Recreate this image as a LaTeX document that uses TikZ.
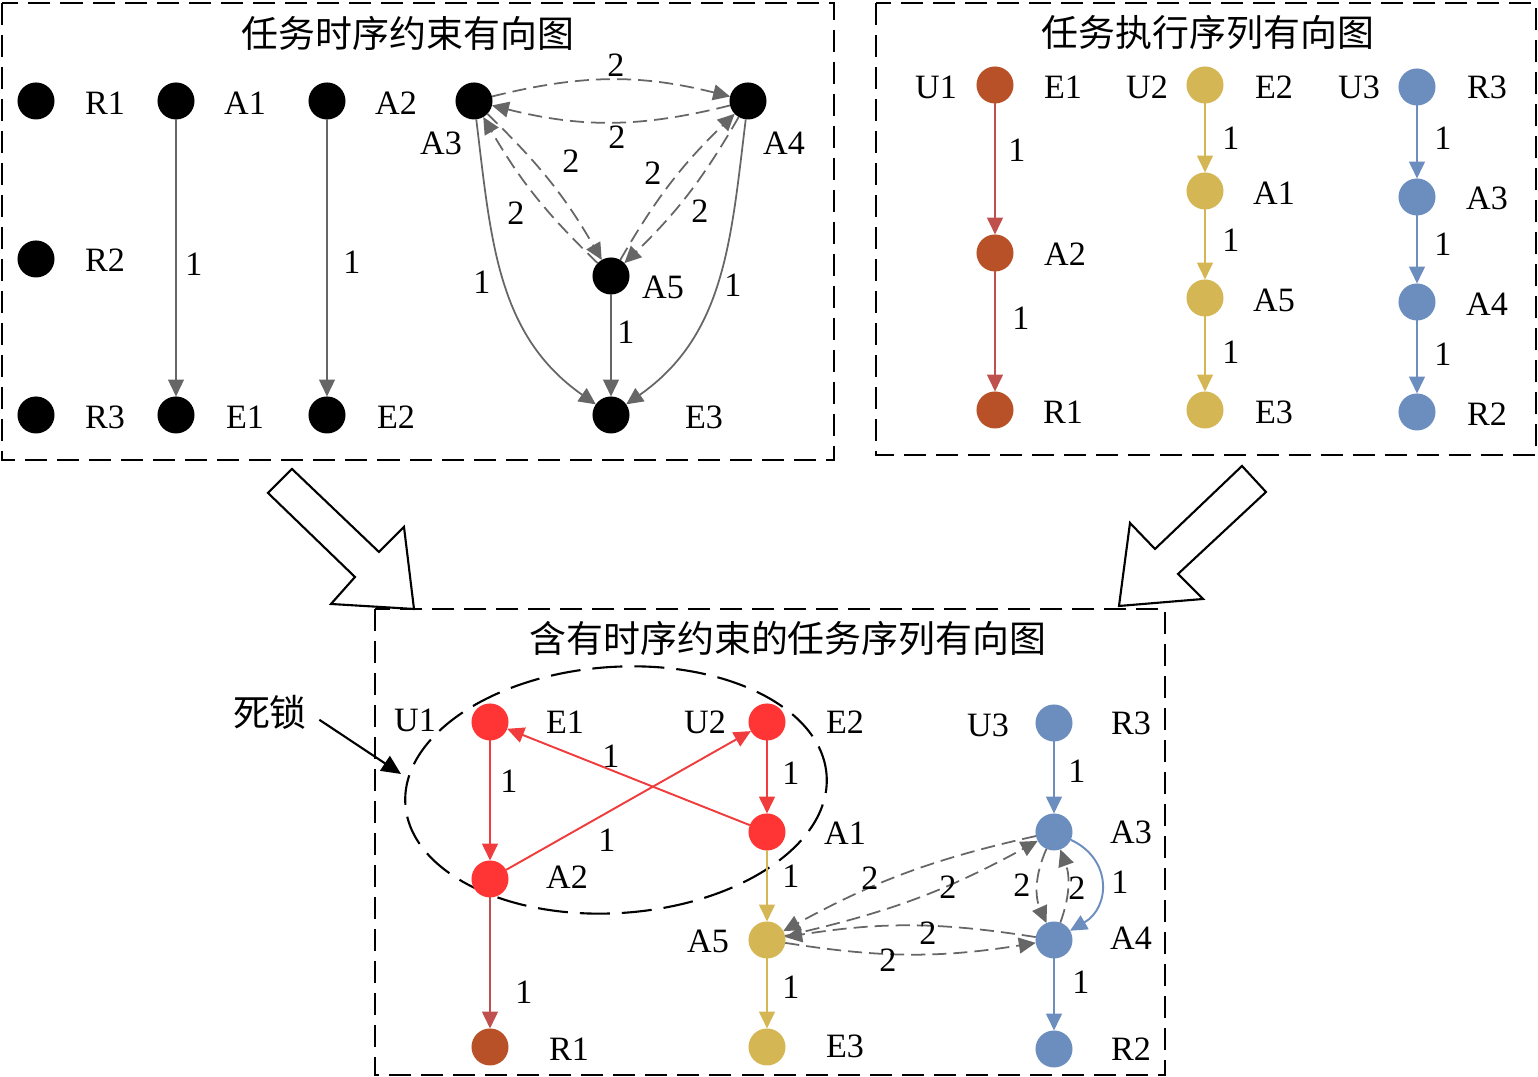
\documentclass[tikz,border=0pt]{standalone}
\usepackage{fontspec}
\setmainfont{Liberation Serif}
\newfontfamily\cjk{Noto Sans CJK SC}
\usetikzlibrary{arrows.meta,shapes.geometric}
\definecolor{cbrown}{HTML}{B85127}
\definecolor{cbredge}{HTML}{C0504D}
\definecolor{cyel}{HTML}{D5B655}
\definecolor{cblue}{HTML}{6B8EBF}
\definecolor{cred}{HTML}{FF3535}
\definecolor{credge}{HTML}{F03C3C}
\definecolor{cgray}{HTML}{666666}
\begin{document}
\begin{tikzpicture}[x=0.01cm,y=-0.01cm,
  font=\fontsize{9.7}{11}\selectfont,
  dot/.style={circle,minimum size=0.37cm,inner sep=0pt,outer sep=0pt},
  blk/.style={dot,fill=black},
  nbrown/.style={dot,fill=cbrown},
  nyel/.style={dot,fill=cyel},
  nblue/.style={dot,fill=cblue},
  nred/.style={dot,fill=cred},
  lab/.style={inner sep=0pt,anchor=center},
  ttl/.style={inner sep=0pt,anchor=center,font=\cjk\fontsize{10.5}{12}\selectfont},
  tip/.style={-{Triangle[length=4.8pt,width=4.5pt]}},
  ge/.style={tip,draw=cgray,line width=0.5pt},
  gd/.style={ge,dash pattern=on 4pt off 2pt},
  bre/.style={tip,draw=cbredge,line width=0.55pt},
  ye/.style={tip,draw=cyel,line width=0.55pt},
  be/.style={tip,draw=cblue,line width=0.55pt},
  re/.style={tip,draw=credge,line width=0.55pt},
  box/.style={draw=black,line width=0.55pt,dash pattern=on 0.22cm off 0.1cm},
  bigarrow/.style={draw=black,fill=white,line width=0.6pt,line join=miter}
]
\useasboundingbox (0,0) rectangle (1538,1077);

% ---------------- top-left box ----------------
\draw[box] (2,3) rectangle (834,460);
\node[ttl] (t1) at (408,33) {任务时序约束有向图};

\node[blk] (tR1) at (36,101) {};
\node[blk] (tA1) at (176,101) {};
\node[blk] (tA2) at (327,101) {};
\node[blk] (tA3) at (474,101) {};
\node[blk] (tA4) at (748,101) {};
\node[blk] (tR2) at (36,259) {};
\node[blk] (tA5) at (611,276) {};
\node[blk] (tR3) at (36,415) {};
\node[blk] (tE1) at (176,415) {};
\node[blk] (tE2) at (327,415) {};
\node[blk] (tE3) at (611,415) {};

\node[lab] (ltR1) at (105,103) {R1};
\node[lab] (ltA1) at (245,103) {A1};
\node[lab] (ltA2) at (396,103) {A2};
\node[lab] (ltA3) at (441,143) {A3};
\node[lab] (ltA4) at (784,143) {A4};
\node[lab] (ltR2) at (105,260) {R2};
\node[lab] (ltA5) at (663,287) {A5};
\node[lab] (ltR3) at (105,417) {R3};
\node[lab] (ltE1) at (245,417) {E1};
\node[lab] (ltE2) at (396,417) {E2};
\node[lab] (ltE3) at (704,417) {E3};

\draw[ge] (tA1) -- (tE1);
\draw[ge] (tA2) -- (tE2);
\draw[ge] (tA5) -- (tE3);
\draw[ge] (tA3) to[out=-83,in=145] (tE3);
\draw[ge] (tA4) to[out=-97,in=35] (tE3);
\draw[gd] (tA3) to[bend left=14] (tA4);
\draw[gd] (tA4) to[bend left=14] (tA3);
\draw[gd] (tA3) to[bend left=8] (tA5);
\draw[gd] (tA5) to[bend left=8] (tA3);
\draw[gd] (tA4) to[bend left=8] (tA5);
\draw[gd] (tA5) to[bend left=8] (tA4);

\node[lab] (lt1) at (194,264) {1};
\node[lab] (lt2) at (352,262) {1};
\node[lab] (lt3) at (626,332) {1};
\node[lab] (lt4) at (482,282) {1};
\node[lab] (lt5) at (733,285) {1};
\node[lab] (lt6) at (616,65) {2};
\node[lab] (lt7) at (617,137) {2};
\node[lab] (lt8) at (571,161) {2};
\node[lab] (lt9) at (516,213) {2};
\node[lab] (lt10) at (700,211) {2};
\node[lab] (lt11) at (653,173) {2};

% ---------------- top-right box ----------------
\draw[box] (876,3) rectangle (1536,455);
\node[ttl] (t2) at (1208,32) {任务执行序列有向图};

\node[nbrown] (rE1) at (995,85) {};
\node[nbrown] (rA2) at (995,253) {};
\node[nbrown] (rR1) at (995,410) {};
\node[nyel] (rE2) at (1205,85) {};
\node[nyel] (rA1) at (1205,191) {};
\node[nyel] (rA5) at (1205,298) {};
\node[nyel] (rE3) at (1205,410) {};
\node[nblue] (rR3) at (1417,87) {};
\node[nblue] (rA3) at (1417,197) {};
\node[nblue] (rA4) at (1417,302) {};
\node[nblue] (rR2) at (1417,412) {};

\node[lab] (lrU1) at (936,87) {U1};
\node[lab] (lrE1) at (1063,87) {E1};
\node[lab] (lrA2) at (1065,254) {A2};
\node[lab] (lrR1) at (1063,412) {R1};
\node[lab] (lrU2) at (1147,87) {U2};
\node[lab] (lrE2) at (1274,87) {E2};
\node[lab] (lrA1) at (1274,193) {A1};
\node[lab] (lrA5) at (1274,300) {A5};
\node[lab] (lrE3) at (1274,412) {E3};
\node[lab] (lrU3) at (1359,87) {U3};
\node[lab] (lrR3) at (1487,87) {R3};
\node[lab] (lrA3) at (1487,198) {A3};
\node[lab] (lrA4) at (1487,304) {A4};
\node[lab] (lrR2) at (1487,414) {R2};

\draw[bre] (rE1) -- (rA2);
\draw[bre] (rA2) -- (rR1);
\draw[ye] (rE2) -- (rA1);
\draw[ye] (rA1) -- (rA5);
\draw[ye] (rA5) -- (rE3);
\draw[be] (rR3) -- (rA3);
\draw[be] (rA3) -- (rA4);
\draw[be] (rA4) -- (rR2);

\node[lab] (lr1) at (1017,150) {1};
\node[lab] (lr2) at (1021,318) {1};
\node[lab] (lr3) at (1231,138) {1};
\node[lab] (lr4) at (1231,240) {1};
\node[lab] (lr5) at (1231,352) {1};
\node[lab] (lr6) at (1443,138) {1};
\node[lab] (lr7) at (1443,244) {1};
\node[lab] (lr8) at (1443,354) {1};

% ---------------- big arrows ----------------
\draw[bigarrow] (292,469) -- (379,552) -- (404,527) -- (414,609) -- (331,604) -- (355,577) -- (268,493) -- cycle;
\draw[bigarrow] (1242,466) -- (1266,492) -- (1178,574) -- (1203,599) -- (1119,606) -- (1130,523) -- (1155,549) -- cycle;

% ---------------- bottom box ----------------
\draw[box] (375,609) rectangle (1165,1075);
\node[ttl] (t3) at (788,638) {含有时序约束的任务序列有向图};

\node[draw=black,ellipse,minimum width=4.22cm,minimum height=2.46cm,inner sep=0pt,
      rotate=4,line width=0.6pt,dash pattern=on 0.3cm off 0.12cm] (dl) at (616,790) {};
\node[ttl] (sisuo) at (270,712) {死锁};
\coordinate (dlp) at (401,774);
\draw[-{Triangle[length=5.5pt,width=5pt]},line width=0.6pt,shorten <=4pt] (sisuo.east) -- (dlp);

\node[nred] (bE1) at (490,722) {};
\node[nred] (bE2) at (767,722) {};
\node[nred] (bA1) at (767,832) {};
\node[nred] (bA2) at (490,879) {};
\node[nbrown] (bR1) at (490,1047) {};
\node[nyel] (bA5) at (767,940) {};
\node[nyel] (bE3) at (767,1047) {};
\node[nblue] (bR3) at (1054,723) {};
\node[nblue] (bA3) at (1054,832) {};
\node[nblue] (bA4) at (1054,940) {};
\node[nblue] (bR2) at (1054,1049) {};

\node[lab] (lbU1) at (415,720) {U1};
\node[lab] (lbE1) at (565,722) {E1};
\node[lab] (lbU2) at (705,722) {U2};
\node[lab] (lbE2) at (845,722) {E2};
\node[lab] (lbA1) at (845,833) {A1};
\node[lab] (lbA2) at (567,877) {A2};
\node[lab] (lbU3) at (988,725) {U3};
\node[lab] (lbR3) at (1131,723) {R3};
\node[lab] (lbA3) at (1131,832) {A3};
\node[lab] (lbA4) at (1131,938) {A4};
\node[lab] (lbA5) at (708,941) {A5};
\node[lab] (lbR1) at (569,1049) {R1};
\node[lab] (lbE3) at (845,1046) {E3};
\node[lab] (lbR2) at (1131,1049) {R2};

\draw[re] (bE1) -- (bA2);
\draw[re] (bE2) -- (bA1);
\draw[re] (bA1) -- (bE1);
\draw[re] (bA2) -- (bE2);
\draw[bre] (bA2) -- (bR1);
\draw[ye] (bA1) -- (bA5);
\draw[ye] (bA5) -- (bE3);
\draw[be] (bR3) -- (bA3);
\draw[be] (bA4) -- (bR2);
\draw[be] (bA3) to[out=-25,in=30,looseness=1.3] (bA4);
\draw[gd] (bA3) to[bend right=8] (bA5);
\draw[gd] (bA5) to[bend right=8] (bA3);
\draw[gd] (bA4) to[bend right=9] (bA5);
\draw[gd] (bA5) to[bend right=9] (bA4);
\draw[gd] (bA3) to[bend right=24] (bA4);
\draw[gd] (bA4) to[bend right=20] (bA3);

\node[lab] (lb1) at (509,781) {1};
\node[lab] (lb2) at (791,773) {1};
\node[lab] (lb3) at (611,756) {1};
\node[lab] (lb4) at (607,840) {1};
\node[lab] (lb5) at (524,992) {1};
\node[lab] (lb6) at (791,876) {1};
\node[lab] (lb7) at (791,987) {1};
\node[lab] (lb8) at (1077,771) {1};
\node[lab] (lb9) at (1081,982) {1};
\node[lab] (lb10) at (1120,882) {1};
\node[lab] (lb11) at (870,878) {2};
\node[lab] (lb12) at (948,887) {2};
\node[lab] (lb13) at (928,933) {2};
\node[lab] (lb14) at (888,960) {2};
\node[lab] (lb15) at (1022,885) {2};
\node[lab] (lb16) at (1077,888) {2};
\end{tikzpicture}
\end{document}
